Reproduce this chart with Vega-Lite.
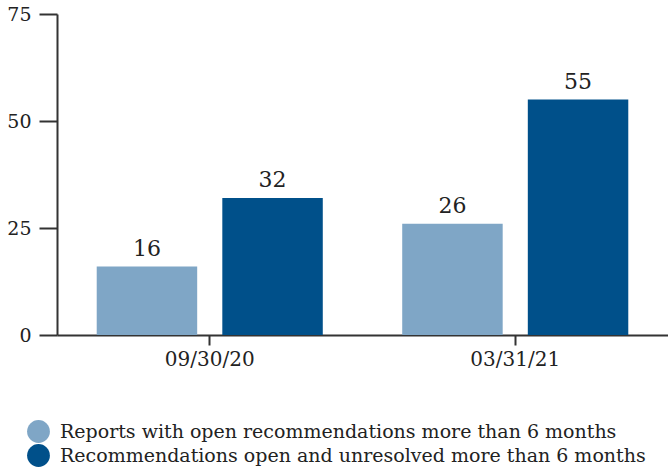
{
  "$schema": "https://vega.github.io/schema/vega-lite/v6.json",
  "autosize": "none",
  "width": 611,
  "height": 321,
  "padding": {"left": 57, "top": 14, "right": 0, "bottom": 135},
  "background": "white",
  "config": {
    "view": {"stroke": null},
    "font": "DejaVu Serif",
    "axis": {"grid": false, "domainColor": "#333333", "tickColor": "#333333", "domainWidth": 2, "tickWidth": 2, "labelColor": "#222222", "labelFont": "DejaVu Serif", "titleFont": "DejaVu Serif"}
  },
  "data": {
    "values": [
      {"date": "09/30/20", "series": "Reports with open recommendations more than 6 months", "value": 16},
      {"date": "09/30/20", "series": "Recommendations open and unresolved more than 6 months", "value": 32},
      {"date": "03/31/21", "series": "Reports with open recommendations more than 6 months", "value": 26},
      {"date": "03/31/21", "series": "Recommendations open and unresolved more than 6 months", "value": 55}
    ]
  },
  "encoding": {
    "x": {
      "field": "date", "type": "nominal", "sort": ["09/30/20", "03/31/21"],
      "scale": {"paddingInner": 0.26, "paddingOuter": 0.13},
      "axis": {"title": null, "labelAngle": 0, "labelFontSize": 20, "tickSize": 10, "labelPadding": 4, "domainWidth": 2}
    },
    "xOffset": {
      "field": "series", "type": "nominal",
      "sort": ["Reports with open recommendations more than 6 months", "Recommendations open and unresolved more than 6 months"],
      "scale": {"paddingInner": 0.2, "paddingOuter": 0}
    },
    "y": {
      "field": "value", "type": "quantitative",
      "scale": {"domain": [0, 75], "nice": false},
      "axis": {"title": null, "values": [0, 25, 50, 75], "labelFontSize": 19, "tickSize": 18, "labelPadding": 8}
    }
  },
  "layer": [
    {
      "mark": {"type": "bar"},
      "encoding": {
        "color": {
          "field": "series", "type": "nominal",
          "scale": {
            "domain": ["Reports with open recommendations more than 6 months", "Recommendations open and unresolved more than 6 months"],
            "range": ["#7fa6c6", "#00508a"]
          },
          "legend": {
            "title": null, "orient": "none", "legendX": -31, "legendY": 405,
            "symbolType": "circle", "symbolSize": 520, "symbolOpacity": 1,
            "labelFontSize": 19, "labelFont": "DejaVu Serif", "labelColor": "#222222",
            "labelOffset": 9, "rowPadding": 0, "labelLimit": 700
          }
        }
      }
    },
    {
      "mark": {"type": "text", "baseline": "bottom", "dy": -6, "fontSize": 22, "color": "#222222", "font": "DejaVu Serif"},
      "encoding": {
        "text": {"field": "value", "type": "quantitative"}
      }
    }
  ]
}
